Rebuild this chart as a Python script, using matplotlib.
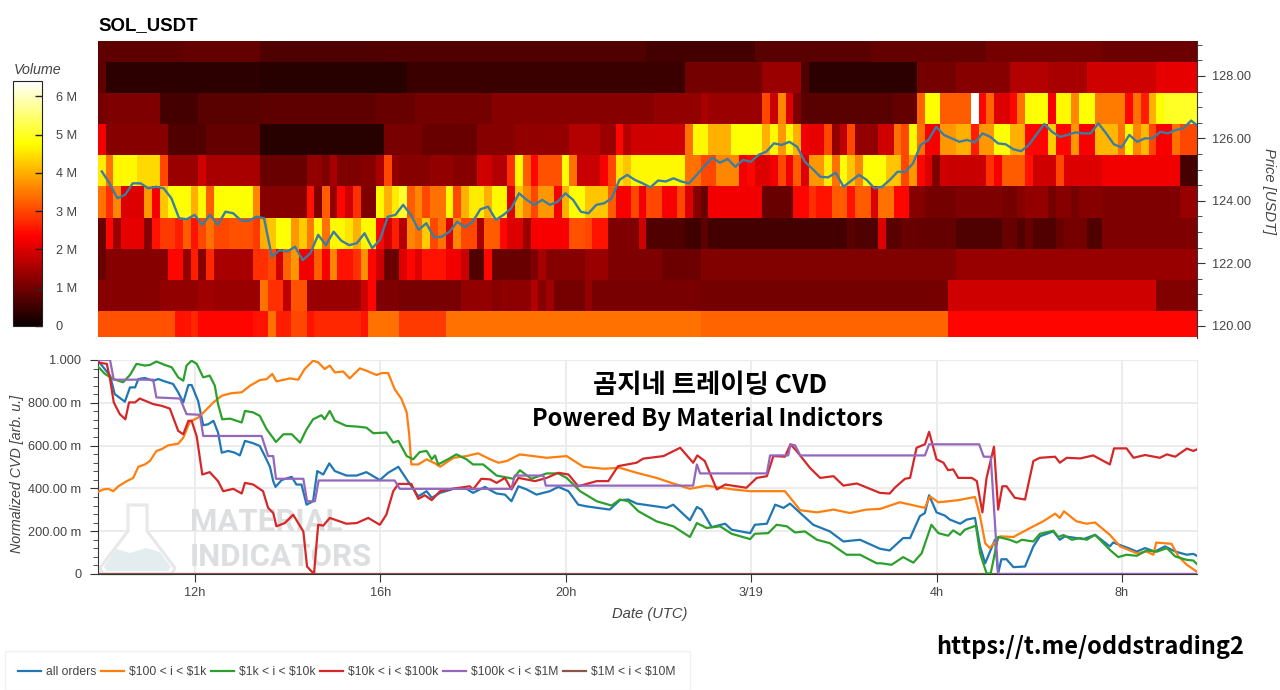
import numpy as np
import matplotlib
matplotlib.use('Agg')
import matplotlib.pyplot as plt
from matplotlib.patches import Polygon, Rectangle
from matplotlib.transforms import IdentityTransform
from matplotlib.ticker import MultipleLocator

plt.rcParams['font.family'] = ['Liberation Sans', 'DejaVu Sans']

W = 1280
H = 690

# heatmap, volume in millions, one row per price bin as (columns, value) runs, 10 min columns
row0 = [(10,3.1),(2,2.5),(1,2.7),(2,2.4),(5,2.4),(1,2.5),(1,2.5),(1,3.4),(2,2.6),(2,3.0),(1,2.5),(6,2.7),(1,2.5),(4,3.4),
        (6,2.9),(33,3.4),(32,3.3),(33,2.4)]
row1 = [(8,1.2),(5,1.3),(2,1.45),(6,1.4),(1,3.4),(2,2.8),(1,1.7),(2,3.1),(7,1.4),(1,1.9),(1,2.4),(3,1.1),
        (8,1.05),(4,1.3),(1,1.2),(4,1.25),(1,1.6),(1,1.2),(1,1.45),(4,1.0),(1,1.3),(14,1.05),(32,1.0),(27,1.9),(6,1.15)]
row2 = [(1,.9),(8,1.2),(2,2.4),(1,1.3),(1,2.6),(1,1.2),(1,2.7),(5,1.5),(2,2.8),(1,3.0),(1,1.9),(1,3.3),(1,3.8),(2,2.2),
        (1,3.2),(1,2.3),(1,3.6),(2,2.5),(1,2.8),(1,3.7),(1,2.4),(1,1.9),(2,.9),
        (1,2.0),(1,2.4),(1,2.0),(3,2.5),(2,2.2),(1,1.8),(2,.7),(1,2.4),(5,.9),(1,1.1),(1,1.5),(5,1.2),(3,1.4),(7,1.1),(5,.95),
        (33,1.15),(32,1.35)]
row3 = [(1,.9),(1,2.4),(1,1.4),(3,2.1),(1,1.2),(1,2.5),(2,2.9),(1,2.6),(1,3.2),(1,2.5),(1,3.0),(1,3.4),(2,3.0),(3,3.1),(1,2.9),
        (1,4.0),(1,4.2),(2,4.8),(1,3.8),(1,4.3),(1,3.5),(1,4.7),(1,3.4),(2,4.7),(1,4.5),(1,4.0),(2,4.7),(1,2.4),(1,1.9),(1,2.6),
        (1,1.6),(1,3.6),(1,3.4),(1,4.3),(1,3.0),(1,3.4),(1,2.0),(1,3.6),(2,3.0),(1,1.5),(2,3.2),(1,2.4),(2,2.0),(1,1.4),(5,2.3),
        (2,3.1),(1,3.0),(2,2.5),(4,1.1),(1,1.9),(5,.7),(2,.5),
        (1,.8),(18,.55),(1,.75),(3,.65),(1,2.0),(2,.75),(2,.9),(5,.85),
        (6,.65),(2,.9),(1,.7),(1,.9),(3,.7),(1,.9),(3,1.0),(2,.7),(10,1.1),(3,1.1)]
row4 = [(1,3.4),(1,2.8),(1,3.6),(3,2.0),(1,3.8),(1,2.3),(1,4.2),(3,4.8),(1,4.0),(1,4.7),(1,3.2),(5,4.8),(1,3.6),(6,1.2),(1,2.5),
        (1,1.1),(1,3.2),(1,1.3),(1,2.4),(1,1.9),(1,2.8),(2,1.1),(1,4.7),(1,4.0),(1,4.6),
        (1,5.1),(1,3.2),(1,3.6),(1,3.0),(2,3.4),(1,4.7),(1,3.0),(1,4.0),(2,4.6),(1,4.0),(2,4.7),(1,2.0),(1,4.2),(1,3.6),(1,3.0),
        (2,3.8),(1,2.3),(1,4.0),(2,4.8),(3,4.2),(1,3.2),(2,2.3),(1,3.0),(1,2.2),(2,3.0),(2,2.3),(1,3.0),(1,2.0),(1,1.2),
        (1,.9),(7,2.2),(4,.9),(2,2.4),(1,2.8),(2,2.5),(2,3.2),(1,2.5),(2,3.2),(1,2.0),(2,3.4),(2,2.4),(2,1.2),(4,1.0),
        (6,1.1),(2,1.0),(1,1.2),(3,1.3),(1,1.0),(2,1.2),(1,1.0),(3,1.2),(10,1.1),(3,1.35)]
row5 = [(1,4.6),(1,3.4),(3,4.7),(3,4.4),(1,3.0),(4,1.4),(1,1.9),(7,1.5),(6,.9),(2,1.3),(1,1.1),(1,1.5),(3,1.1),(2,1.2),(1,1.5),(1,3.0),(1,1.3),
        (4,1.2),(3,1.3),(3,1.2),(2,1.9),(2,1.6),(1,2.8),(1,4.7),(1,3.2),(1,2.4),(3,3.1),(1,4.8),(1,3.4),(3,1.8),(1,2.3),(1,3.0),(1,4.5),(1,4.2),
        (7,4.7),(2,3.4),
        (2,3.0),(3,3.6),(1,2.2),(1,2.4),(2,2.0),(1,2.2),(1,3.0),(1,2.2),(1,3.2),(1,2.0),(2,3.8),(1,4.6),(1,3.4),(1,4.8),(1,4.2),(1,3.6),(3,4.8),
        (2,4.2),(1,3.0),(1,3.8),(1,2.4),(1,2.0),(1,1.1),(1,1.9),(5,1.8),(1,2.8),(1,2.3),(3,3.2),(1,2.5),(3,1.9),(1,3.0),(5,2.0),(10,2.2),(3,.6)]
row6 = [(1,2.2),(8,1.2),(5,.7),(7,.85),(16,.3),(5,1.05),(7,.9),(5,1.2),(7,1.3),(4,1.6),(2,1.4),(1,2.4),(1,1.6),(7,1.9),(1,3.4),(1,4.7),
        (1,4.7),(3,4.0),(4,4.8),(1,4.0),(1,4.7),(1,3.8),(1,4.7),(1,4.0),(1,2.2),(2,2.1),(1,3.0),(1,1.3),(1,1.7),(1,3.0),(3,1.3),(2,1.9),(1,3.4),(1,3.0),
        (1,4.7),(1,3.4),(2,2.3),(2,3.8),(2,4.0),(1,2.6),(2,3.8),(2,4.8),(2,4.0),(3,2.4),(1,4.3),(2,2.4),(1,3.8),(2,2.3),(3,4.1),(1,3.4),(1,4.7),(1,3.6),
        (1,4.1),(1,3.0),(2,2.3),(1,3.4),(3,3.0)]
row7 = [(1,1.0),(7,1.1),(5,.55),(8,.75),(15,.8),(5,.9),(10,1.0),(10,1.2),(11,1.2),(6,1.3),
        (1,1.5),(7,1.4),(1,3.0),(1,1.8),(1,3.6),(1,2.0),(1,1.1),(12,.75),(3,.85),(1,3.3),(2,4.8),(2,3.2),
        (2,3.2),(1,6.4),(1,2.4),(1,3.3),(2,2.0),(1,2.4),(1,3.4),(3,4.8),(1,2.3),(2,4.7),(1,3.6),(2,4.8),(4,3.5),(1,2.4),(1,3.4),(1,2.6),(1,4.0),(1,4.8),(5,5.0)]
row8 = [(1,.8),(20,.35),(19,.28),(36,.45),(10,1.0),(5,1.4),(1,.7),(14,.35),(5,1.0),(7,1.2),(5,1.6),(5,1.5),(9,1.9),(6,2.1)]
row9 = [(11,.8),(10,.85),(15,.65),(35,.7),(14,.55),(15,.75),(15,.85),(15,1.0),(13,.95)]
heat_rows = [row0, row1, row2, row3, row4, row5, row6, row7, row8, row9]
price_edges = [119.46, 120.46, 121.46, 122.46, 123.46, 124.46, 125.46, 126.46, 127.46, 128.46, 129.46]

# price line, one value every 10 min
price = [124.94,124.56,124.08,124.19,124.56,124.56,124.40,124.45,124.40,124.08,123.44,123.41,123.55,123.23,123.55,123.23,
         123.65,123.60,123.37,123.36,123.49,123.44,122.21,122.42,122.37,122.53,122.10,122.32,122.91,122.58,123.01,122.72,
         122.58,122.64,122.96,122.48,122.75,123.49,123.55,123.87,123.55,123.07,123.28,122.83,122.85,123.01,123.33,123.15,
         123.33,123.73,123.81,123.39,123.55,123.76,124.24,124.03,123.87,124.03,123.87,123.97,124.24,124.03,123.65,123.60,
         123.87,123.92,124.08,124.67,124.83,124.67,124.56,124.43,124.65,124.62,124.72,124.62,124.56,124.83,125.11,125.38,
         125.22,125.34,125.09,125.31,125.25,125.47,125.57,125.84,125.79,125.89,125.73,125.25,125.02,124.77,124.75,124.90,
         124.45,124.64,124.83,124.67,124.40,124.45,124.67,124.93,124.93,125.20,125.79,125.95,126.37,126.11,126.0,125.89,
         125.95,125.87,126.16,126.05,125.84,125.81,125.65,125.59,125.79,126.13,126.46,126.21,126.05,126.11,126.19,126.16,
         126.16,126.48,126.16,125.81,125.71,126.11,125.89,126.0,126.0,126.21,126.16,126.27,126.32,126.57,126.37]

# CVD lines, time in hours from 3/18 00:00
all_t = [9.91,10.17,10.27,10.49,10.60,10.71,10.78,10.92,11.10,11.21,11.35,11.53,11.64,11.75,11.86,11.93,12.07,12.18,12.29,12.40,12.50,12.58,12.72,12.86,12.97,13.08,13.26,13.40,13.51,13.62,13.69,13.74,13.87,14.09,14.19,14.30,14.41,14.55,14.64,14.77,14.90,15.02,15.27,15.49,15.70,15.99,16.17,16.39,16.57,16.82,17.0,17.11,17.29,17.58,17.86,18.0,18.26,18.37,
         18.51,18.69,18.83,18.98,19.16,19.37,19.66,19.84,20.06,20.27,20.45,20.95,21.17,21.35,21.53,22.18,22.32,22.68,22.83,22.93,23.15,23.44,23.58,23.98,24.08,24.34,24.52,24.70,24.84,25.06,25.34,25.70,25.99,26.35,26.78,
         26.99,27.28,27.43,27.64,27.75,27.84,28.0,28.18,28.29,28.51,28.65,28.83,28.94,29.05,29.26,29.33,29.40,29.51,29.66,29.91,30.09,30.23,30.52,30.66,30.77,31.17,31.42,31.74,31.81,32.14,32.32,32.50,32.71,32.93,33.15,33.40,33.54,33.67]
all_v = [.997,.927,.841,.805,.872,.872,.911,.916,.903,.911,.900,.888,.849,.802,.883,.883,.809,.695,.700,.716,.661,.567,.575,.567,.554,.622,.611,.598,.551,.501,.434,.407,.439,.454,.418,.418,.324,.340,.481,.465,.517,.481,.460,.460,.476,.439,.473,.501,.442,.363,.387,.356,.379,.398,.398,.379,.407,.392,
         .376,.371,.340,.410,.395,.371,.387,.407,.387,.324,.316,.301,.345,.348,.329,.309,.324,.251,.313,.301,.219,.235,.207,.191,.230,.235,.324,.309,.329,.285,.230,.199,.152,.160,.118,
         .110,.168,.168,.270,.285,.368,.288,.273,.254,.235,.254,.262,.129,.050,.160,.003,.069,.069,.032,.035,.129,.176,.199,.160,.176,.163,.183,.129,.147,.121,.105,.121,.105,.129,.105,.090,.094,.079]

o100_t = [9.89,10.02,10.13,10.24,10.35,10.53,10.67,10.78,10.92,11.03,11.17,11.28,11.42,11.64,11.75,11.89,12.07,12.22,12.40,12.58,12.79,13.01,13.19,13.40,13.55,13.67,13.76,14.05,14.23,14.37,14.55,14.66,14.80,14.91,15.02,15.20,15.34,15.56,15.70,15.92,16.03,16.17,16.31,16.46,16.57,16.62,16.67,16.82,17.0,17.18,17.29,17.58,17.86,18.11,18.37,
          18.55,18.73,19.01,19.59,20.02,20.38,20.81,21.17,21.53,21.96,22.39,22.68,23.04,23.62,23.98,24.26,24.73,25.06,25.42,25.78,26.13,26.49,26.78,
          27.21,27.75,27.86,28.04,28.47,28.83,28.94,29.05,29.15,29.37,29.66,30.02,30.30,30.56,30.66,30.75,31.02,31.24,31.42,31.74,31.96,32.32,32.53,32.68,32.74,33.07,33.22,33.40,33.67]
o100_v = [.382,.395,.398,.387,.410,.434,.449,.501,.512,.528,.575,.583,.601,.609,.637,.711,.731,.762,.802,.833,.845,.849,.880,.906,.911,.935,.900,.914,.908,.958,.997,.989,.958,.974,.942,.946,.914,.961,.950,.930,.939,.939,.864,.817,.755,.661,.512,.512,.536,.517,.501,.543,.551,.564,.536,
          .520,.528,.559,.543,.551,.501,.492,.496,.473,.449,.418,.398,.413,.395,.387,.387,.387,.298,.288,.301,.285,.301,.304,
          .335,.309,.363,.335,.345,.360,.270,.144,.121,.176,.173,.215,.246,.282,.262,.293,.246,.235,.241,.183,.129,.097,.105,.090,.147,.141,.082,.043,.003]

o1k_t = [9.89,10.06,10.24,10.45,10.60,10.74,10.92,11.03,11.17,11.35,11.50,11.64,11.75,11.82,11.93,12.04,12.18,12.32,12.43,12.50,12.59,12.76,12.90,13.01,13.08,13.26,13.40,13.55,13.75,13.91,14.09,14.27,14.41,14.55,14.73,14.80,14.91,15.02,15.27,15.49,15.70,15.85,16.13,16.28,16.39,16.57,16.71,16.85,17.0,17.11,17.18,17.25,17.46,17.64,17.86,18.0,18.22,18.37,
         18.51,18.87,19.01,19.26,19.59,19.84,20.02,20.31,20.67,20.99,21.17,21.35,21.57,21.96,22.32,22.68,22.83,23.04,23.33,23.58,23.98,24.08,24.37,24.55,24.77,24.95,25.16,25.42,25.70,26.06,26.35,26.71,
         26.81,27.03,27.28,27.50,27.68,27.89,28.04,28.25,28.36,28.51,28.61,28.85,28.94,29.08,29.17,29.33,29.58,29.73,29.84,30.09,30.23,30.52,30.63,30.74,30.92,31.10,31.24,31.42,31.74,31.92,32.10,32.32,32.53,32.75,32.97,33.15,33.40,33.54,33.67]
o1k_v = [.974,.935,.911,.896,.930,.982,.974,.977,.993,.977,.966,.919,.903,.974,.997,.982,.919,.927,.880,.794,.723,.726,.716,.708,.762,.755,.739,.676,.617,.653,.653,.614,.676,.723,.742,.723,.762,.716,.692,.689,.684,.658,.661,.614,.622,.551,.536,.570,.575,.536,.554,.512,.536,.559,.536,.512,.512,.485,
         .460,.445,.485,.445,.470,.470,.449,.387,.340,.320,.348,.340,.293,.246,.223,.173,.238,.215,.223,.188,.163,.188,.191,.230,.223,.194,.199,.160,.144,.090,.090,.050,
         .050,.043,.079,.053,.097,.230,.191,.179,.204,.183,.207,.226,.097,.003,.003,.173,.160,.147,.160,.152,.188,.202,.173,.182,.160,.168,.160,.183,.113,.079,.090,.085,.110,.104,.121,.082,.066,.063,.035]

o10k_t = [9.89,10.10,10.17,10.25,10.38,10.50,10.58,10.71,10.81,11.10,11.28,11.46,11.64,11.75,11.86,11.93,12.04,12.16,12.32,12.50,12.61,12.83,13.01,13.08,13.26,13.47,13.58,13.69,13.76,13.94,14.12,14.34,14.42,14.57,14.66,14.77,14.91,15.27,15.49,15.74,15.99,16.13,16.28,16.39,16.67,16.82,16.96,17.11,17.29,17.58,17.93,18.0,18.18,18.37,
          18.51,18.69,18.83,18.98,19.34,19.59,19.84,20.06,20.27,20.67,20.92,21.13,21.53,21.67,22.11,22.47,22.75,22.84,23.0,23.26,23.44,23.90,24.12,24.34,24.48,24.73,24.85,24.98,25.27,25.49,25.78,25.99,26.28,26.78,
          26.99,27.10,27.32,27.43,27.57,27.75,27.84,28.0,28.15,28.25,28.36,28.47,28.76,28.87,28.99,29.08,29.24,29.33,29.42,29.51,29.69,29.91,30.09,30.23,30.56,30.66,30.81,31.10,31.38,31.74,31.83,32.10,32.25,32.50,32.82,32.97,33.15,33.40,33.54,33.67]
o10k_v = [.989,.982,.911,.802,.747,.723,.802,.802,.820,.794,.786,.773,.669,.653,.716,.716,.642,.465,.476,.434,.387,.398,.376,.426,.418,.387,.309,.285,.223,.238,.277,.199,.035,0,.230,.226,.262,.235,.238,.262,.230,.277,.387,.421,.421,.351,.368,.345,.387,.399,.410,.395,.445,.442,
          .426,.449,.395,.449,.434,.449,.473,.465,.410,.434,.434,.504,.520,.539,.551,.590,.520,.554,.528,.395,.418,.403,.449,.457,.551,.548,.606,.575,.496,.449,.457,.413,.423,.379,
          .376,.403,.445,.449,.590,.606,.664,.536,.520,.485,.489,.449,.449,.434,.288,.449,.595,.301,.410,.410,.356,.348,.528,.543,.548,.520,.543,.540,.554,.512,.587,.587,.543,.556,.543,.559,.548,.586,.575,.587]

o100k_t = [9.89,10.17,10.25,11.10,11.17,11.68,11.82,12.11,12.18,13.44,13.58,13.69,13.75,14.34,14.42,14.59,14.67,16.31,16.42,18.83,18.90,19.52,19.57,22.75,22.83,22.90,24.34,24.41,24.80,24.85,24.95,25.06,27.75,27.84,28.92,29.02,29.17,29.33,33.67]
o100k_v = [1.0,1.0,.908,.908,.825,.820,.747,.744,.645,.645,.551,.551,.445,.445,.340,.340,.437,.437,.398,.398,.460,.460,.413,.413,.512,.470,.470,.554,.554,.606,.601,.554,.554,.606,.606,.548,.548,0,0]

o1m_t = [9.89, 33.67]
o1m_v = [0, 0]

line_names = ['all orders', r'\$100 < i < \$1k', r'\$1k < i < \$10k', r'\$10k < i < \$100k', r'\$100k < i < \$1M', r'\$1M < i < \$10M']
line_colors = ['#1f77b4', '#ff7f0e', '#2ca02c', '#d62728', '#9467bd', '#8c564b']
line_t = [all_t, o100_t, o1k_t, o10k_t, o100k_t, o1m_t]
line_v = [all_v, o100_v, o1k_v, o10k_v, o100k_v, o1m_v]

x_ticks = [12, 16, 20, 24, 28, 32]
x_labels = ['12h', '16h', '20h', '3/19', '4h', '8h']
y_ticks = [0, .2, .4, .6, .8, 1.0]
y_labels = ['0', '200.00 m', '400.00 m', '600.00 m', '800.00 m', '1.000']
vol_ticks = [0, 1, 2, 3, 4, 5, 6]
vol_labels = ['0', '1 M', '2 M', '3 M', '4 M', '5 M', '6 M']
price_ticks = [120, 122, 124, 126, 128]

GRAY = '#444444'
T0 = 9.91
T1 = 33.62


def box(x0, y0, x1, y1):
    # pixel box (y from the top) to figure fractions
    return [x0/W, 1 - y1/H, (x1-x0)/W, (y1-y0)/H]


def px(x, y):
    return x, H - y


fig = plt.figure(figsize=(W/100, H/100), dpi=100, facecolor='white')

# top panel
ax1 = fig.add_axes(box(98, 41, 1197, 337.5))
Z = np.array([np.repeat([r[1] for r in row], [r[0] for r in row]) for row in heat_rows])
t_edges = T0 + np.arange(Z.shape[1] + 1)/6
mesh = ax1.pcolormesh(t_edges, price_edges, Z, cmap='hot', vmin=0, vmax=6.4, rasterized=True)
ax1.plot(T0 + (np.arange(len(price)) + .5)/6, price, color='#3b7ea1', lw=1.7)
ax1.set_xlim(T0, T1)
ax1.set_ylim(119.62, 129.12)
ax1.yaxis.tick_right()
ax1.set_yticks(price_ticks)
ax1.set_yticklabels(['%.2f' % p for p in price_ticks], color=GRAY, fontsize=9.2)
ax1.yaxis.set_minor_locator(MultipleLocator(.5))
ax1.tick_params(axis='y', which='major', length=6, color='#333333', pad=5)
ax1.tick_params(axis='y', which='minor', length=3.5, color='#333333')
ax1.set_xticks([])
for s in ['top', 'left', 'bottom']:
    ax1.spines[s].set_visible(False)
ax1.spines['right'].set_color('#333333')
fig.text(98/W, 1 - 25.5/H, 'SOL_USDT', fontsize=13.4, fontweight='bold', color='black', va='center')
fig.text(1269/W, 1 - 191/H, 'Price [USDT]', fontsize=10.6, style='italic', color=GRAY, rotation=270, ha='center', va='center')

# colour bar
cax = fig.add_axes(box(13, 81, 42, 326))
cb = fig.colorbar(mesh, cax=cax)
cb.set_ticks(vol_ticks)
cb.set_ticklabels(vol_labels)
cb.ax.tick_params(direction='in', length=5, color='#222222', labelcolor=GRAY, labelsize=9.2, pad=10, width=1)
cb.outline.set_edgecolor('#222222')
fig.text(14/W, 1 - 70.5/H, 'Volume', fontsize=10.3, style='italic', color=GRAY, va='center')

# bottom panel
ax2 = fig.add_axes(box(98, 360, 1197, 574))
for k in [5, 0, 1, 2, 3, 4]:
    ax2.plot(line_t[k], line_v[k], color=line_colors[k], lw=1.6, zorder=3 + k*.01 if k != 5 else 1.5, solid_joinstyle='round')
ax2.set_xlim(T0, T1)
ax2.set_ylim(0, 1.0)
ax2.set_xticks(x_ticks)
ax2.set_xticklabels(x_labels, color=GRAY, fontsize=9.2)
ax2.set_yticks(y_ticks)
ax2.set_yticklabels(y_labels, color=GRAY, fontsize=9.2)
ax2.yaxis.set_minor_locator(MultipleLocator(.04))
ax2.grid(True, color='#ececec', lw=1.4, zorder=0)
ax2.set_axisbelow(True)
ax2.tick_params(axis='y', which='major', length=6, color='#333333', pad=6)
ax2.tick_params(axis='y', which='minor', length=3.5, color='#333333')
ax2.tick_params(axis='x', which='major', length=6, color='#333333', pad=3)
ax2.spines['top'].set_color('#ececec')
ax2.spines['right'].set_color('#ececec')
ax2.spines['left'].set_color('#333333')
ax2.spines['bottom'].set_color('#333333')
fig.text(650/W, 1 - 614/H, 'Date (UTC)', fontsize=10.6, style='italic', color=GRAY, ha='center', va='center')
fig.text(17/W, 1 - 474/H, 'Normalized CVD [arb. u.]', fontsize=10.3, style='italic', color=GRAY, rotation=90, ha='center', va='center')

# watermark behind the lines
pix = IdentityTransform()
flask = [px(128, 505), px(147, 505), px(147, 531), px(175, 568), px(172, 574), px(103, 574), px(100, 568), px(128, 531)]
liquid = [px(116, 549), px(130, 553), px(146, 548), px(160, 552), px(171, 567), px(168, 571), px(107, 571), px(104, 567)]
ax2.add_patch(Polygon(flask, closed=True, transform=pix, facecolor='white', edgecolor='#e8e8e8', lw=2.2, zorder=1, clip_on=False))
ax2.add_patch(Polygon(liquid, closed=True, transform=pix, facecolor='#e3edef', edgecolor='none', zorder=1.1, clip_on=False))
ax2.text(190, H - 522, 'MATERIAL', transform=pix, fontsize=22.5, fontweight='bold', color='#dcdee0', va='center',
         family='Roboto', zorder=1.2)
ax2.text(190, H - 557, 'INDICATORS', transform=pix, fontsize=22.5, fontweight='bold', color='#dcdee0', va='center',
         family='Roboto', zorder=1.2)

# captions pasted over the chart
cjk = ['Noto Sans CJK KR', 'DejaVu Sans']
fig.text(710/W, 1 - 386/H, '곰지네 트레이딩 CVD', fontsize=19, fontweight='bold', family=cjk, color='black', ha='center', va='center', zorder=10)
fig.text(707/W, 1 - 419/H, 'Powered By Material Indictors', fontsize=17, fontweight='bold', family=cjk, color='black', ha='center', va='center', zorder=10)
fig.text(1090/W, 1 - 647/H, 'https://t.me/oddstrading2', fontsize=17, fontweight='bold', family=cjk, color='black', ha='center', va='center', zorder=10)

# legend
fig.add_artist(Rectangle(px(5, 690), 685, 39, transform=pix, facecolor='white', edgecolor='#f2f2f2', lw=1))
handles = [plt.Line2D([], [], color=c, lw=1.6) for c in line_colors]
leg = fig.legend(handles, line_names, ncol=6, loc='lower left', bbox_to_anchor=(5/W, -1/H), frameon=False, fontsize=8.7,
                 labelcolor=GRAY, handlelength=1.9, handletextpad=.45, columnspacing=.35, borderpad=1.05, borderaxespad=0)

fig.savefig('out.png', dpi=100)
